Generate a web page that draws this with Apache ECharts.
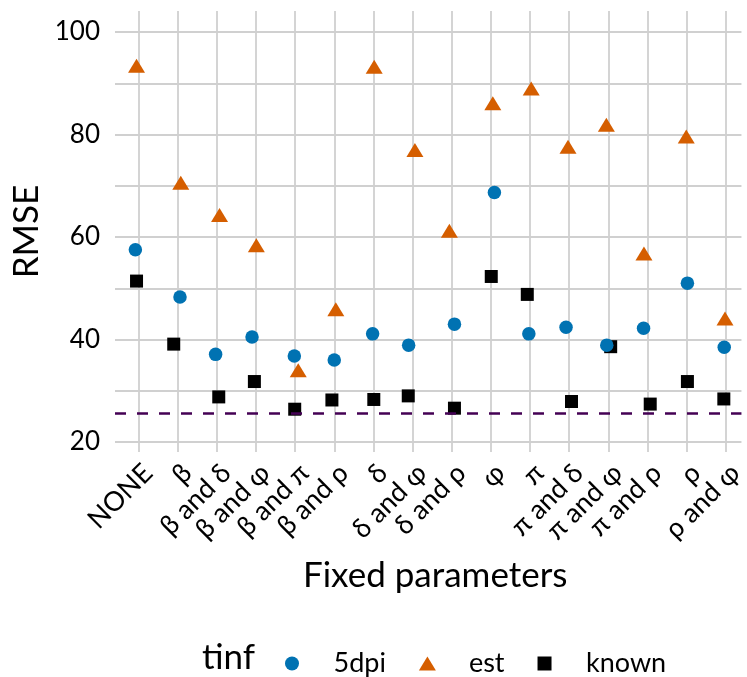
<!DOCTYPE html>
<html><head><meta charset="utf-8">
<script src="https://cdn.jsdelivr.net/npm/echarts@6/dist/echarts.min.js"></script>
<style>html,body{margin:0;padding:0;background:#fff}#c{width:747px;height:677px}</style>
</head><body><div id="c"></div>
<script>
const categories = ['NONE','β','β and δ','β and φ','β and π','β and ρ','δ','δ and φ','δ and ρ','φ','π','π and δ','π and φ','π and ρ','ρ','ρ and φ'];
const yGridValues = [20,30,40,50,60,70,80,90,100];
const yLabelValues = [20,40,60,80,100];
const rmse5dpi  = [57.5,48.3,37.1,40.5,36.8,36.0,41.1,38.9,43.0,68.7,41.1,42.4,38.9,42.2,51.0,38.5];
const rmseEst   = [93.4,70.6,64.3,58.4,34.0,45.9,93.2,77.0,61.2,86.1,89.0,77.6,81.9,56.8,79.6,44.1];
const rmseKnown = [51.4,39.1,28.8,31.8,26.4,28.2,28.3,29.0,26.6,52.3,48.8,27.9,38.6,27.4,31.8,28.4];
const jitter5dpi  = [-0.08,0.06,-0.03,-0.10,-0.02,0.00,-0.02,-0.10,0.07,0.09,-0.03,-0.08,-0.04,-0.10,0.02,-0.04];
const jitterEst   = [-0.05,0.08,0.07,0.01,0.08,0.04,0.02,0.06,-0.06,0.05,0.03,-0.03,-0.05,-0.09,-0.01,-0.02];
const jitterKnown = [-0.05,-0.10,0.05,-0.04,-0.01,-0.06,0.01,-0.11,0.07,0.01,-0.07,0.06,0.06,0.07,0.02,-0.05];
const referenceLine = [25.6];

const catPos = categories.map((c, i) => i + 1);
function pts(vals, jit) { return vals.map((v, i) => [i + 1 + jit[i], v]); }
const FONT = 'Lato';
const chart = echarts.init(document.getElementById('c'), null, {renderer: 'canvas'});
const gridStyle = {color: '#d0d0d0', width: 1.8};
chart.setOption({
  animation: false,
  textStyle: {fontFamily: FONT},
  title: {text: 'tinf', left: 197, top: 635, textStyle: {fontFamily: FONT, fontSize: 35, fontWeight: 'normal', color: '#000'}},
  legend: {
    data: [
      {name: '5dpi', icon: 'circle'},
      {name: 'est', icon: 'path://M0,14 L8.5,0 L17,14 Z'},
      {name: 'known', icon: 'path://M0,0 L12,0 L12,12 L0,12 Z'}
    ],
    left: 280, top: 645, itemWidth: 17, itemHeight: 14, itemGap: 33,
    textStyle: {fontFamily: FONT, fontSize: 27, color: '#000', padding: [0, 0, 0, 28]}
  },
  grid: {left: 115, right: 0, top: 11, bottom: 225},
  xAxis: {
    type: 'value', min: 0.4, max: 16.4,
    name: 'Fixed parameters', nameLocation: 'middle', nameGap: 106,
    nameTextStyle: {fontFamily: FONT, fontSize: 35, color: '#000', padding: [0, 0, 0, 14]},
    axisLine: {show: false},
    axisTick: {show: false, customValues: catPos},
    axisLabel: {customValues: catPos, rotate: 45, margin: 7, align: 'right', verticalAlign: 'top',
      fontFamily: FONT, fontSize: 27, color: '#000',
      formatter: v => categories[Math.round(v) - 1]},
    splitLine: {show: true, lineStyle: gridStyle}
  },
  yAxis: {
    type: 'value', min: 18.05, max: 104.1,
    name: 'RMSE', nameLocation: 'middle', nameGap: 70, nameRotate: 90,
    nameTextStyle: {fontFamily: FONT, fontSize: 35, color: '#000'},
    axisLine: {show: false},
    axisTick: {show: false, customValues: yGridValues},
    axisLabel: {customValues: yLabelValues, margin: 15, fontFamily: FONT, fontSize: 26, color: '#000'},
    splitLine: {show: true, lineStyle: gridStyle}
  },
  series: [
    {name: 'known', type: 'scatter', data: pts(rmseKnown, jitterKnown), symbol: 'rect', symbolSize: 13,
      itemStyle: {color: '#000000', opacity: 1}, z: 3},
    {name: 'est', type: 'scatter', data: pts(rmseEst, jitterEst), symbol: 'triangle', symbolSize: [17, 14],
      itemStyle: {color: '#D55E00', opacity: 1}, z: 3},
    {name: '5dpi', type: 'scatter', data: pts(rmse5dpi, jitter5dpi), symbol: 'circle', symbolSize: 13.5,
      itemStyle: {color: '#0072B2', opacity: 1}, z: 3,
      markLine: {silent: true, symbol: 'none', label: {show: false}, z: 4,
        lineStyle: {color: '#440154', width: 2.5, type: [11, 11]},
        data: referenceLine.map(v => ({yAxis: v}))}}
  ]
});
</script></body></html>
